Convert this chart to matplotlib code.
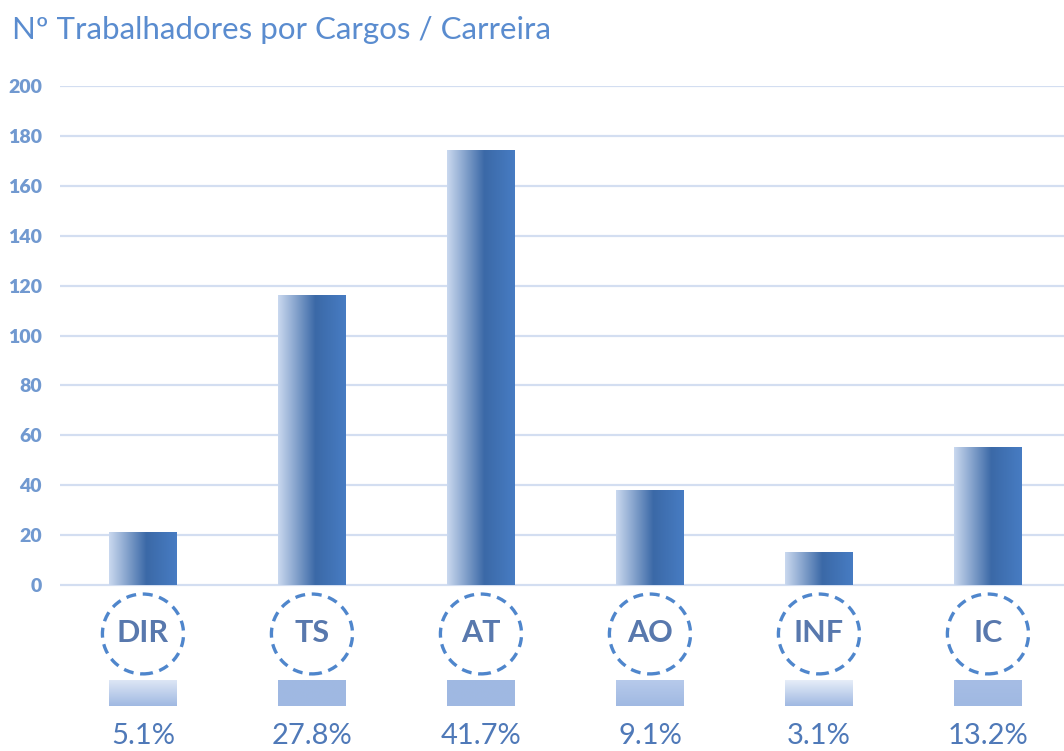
import numpy as np
import matplotlib.pyplot as plt
from matplotlib.colors import LinearSegmentedColormap
from matplotlib.patches import Ellipse

# Nº de trabalhadores por cargo / carreira
cargos = ["DIR", "TS", "AT", "AO", "INF", "IC"]
trabalhadores = [21, 116, 174, 38, 13, 55]
percentagens = ["5.1%", "27.8%", "41.7%", "9.1%", "3.1%", "13.2%"]
yticks = [0, 20, 40, 60, 80, 100, 120, 140, 160, 180, 200]

# cor do topo dos pequenos rectangulos (base e sempre a mesma)
topo_rect = ["#dde6f5", "#9fb8e2", "#9fb8e2", "#b7caeb", "#e6edf8", "#a6bde5"]
base_rect = "#a0b9e2"

plt.rcParams['font.family'] = ['Lato', 'DejaVu Sans']

fig = plt.figure(figsize=(10.64, 7.51), dpi=100)
ax = fig.add_axes([60/1064, 0, 1 - 60/1064, (751-86)/751])

x = np.arange(len(cargos))
larg = 0.4
barras = ax.bar(x, trabalhadores, width=larg, color="none", edgecolor="none", zorder=3)

cmap = LinearSegmentedColormap.from_list("grad", [(0, "#cad9ef"), (0.55, "#3b69a7"), (1, "#477cc3")])
grad = np.linspace(0, 1, 256).reshape(1, -1)
for b in barras:
    x0 = b.get_x()
    ax.imshow(grad, extent=(x0, x0 + b.get_width(), 0, b.get_height()),
              aspect="auto", cmap=cmap, zorder=3, interpolation="bicubic")

# circulos tracejados com as siglas
for i, c in enumerate(cargos):
    ax.add_patch(Ellipse((x[i], -19.6), 0.48, 32, fill=False, ls=(0, (3, 2)),
                         lw=2.4, edgecolor="#4f86cc", zorder=4))
    ax.text(x[i], -19.4, c, ha="center", va="center", fontsize=22, fontweight="bold",
            color="#5878ad", zorder=5)
    vgrad = LinearSegmentedColormap.from_list("v" + c, [topo_rect[i], base_rect])
    ax.imshow(np.linspace(0, 1, 64).reshape(-1, 1), extent=(x[i] - larg/2, x[i] + larg/2, -48.5, -38.1),
              aspect="auto", cmap=vgrad, zorder=3)
    ax.text(x[i], -63.8, percentagens[i], ha="center", va="baseline", fontsize=21,
            color="#4f79b8", zorder=5)

ax.set_xlim(-0.491, 5.45)
ax.set_ylim(-66.5, 200)
ax.set_yticks(yticks)
ax.set_yticklabels([str(v) for v in yticks], fontsize=14, fontweight="heavy", color="#7199d0")
ax.tick_params(axis="y", length=0, pad=13)
ax.tick_params(axis="x", bottom=False, labelbottom=False)
ax.grid(axis="y", color="#d3def1", lw=1.6, zorder=1)
for s in ax.spines.values():
    s.set_visible(False)

fig.text(12/1064, 1 - 30/751, "Nº Trabalhadores por Cargos / Carreira", ha="left", va="center",
         fontsize=22.5, color="#5a8ccf")

fig.savefig("out.png", dpi=100)
